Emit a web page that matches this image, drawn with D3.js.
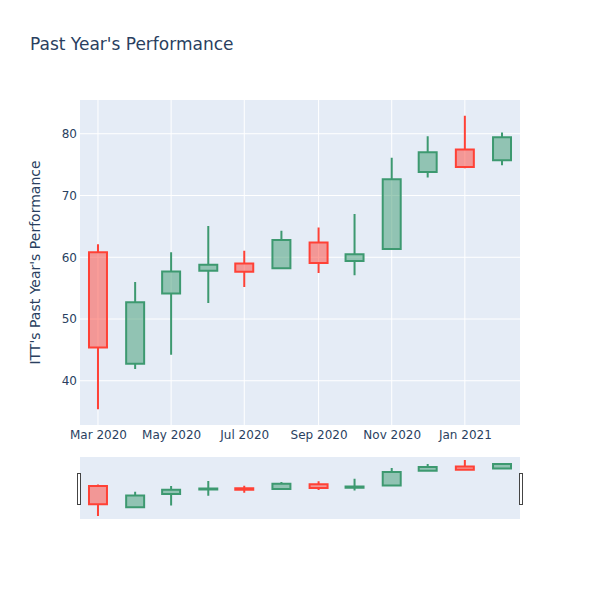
<!DOCTYPE html>
<html><head><meta charset="utf-8">
<script src="https://cdn.jsdelivr.net/npm/d3@7"></script>
<style>body{margin:0;background:#fff}svg{display:block}text{font-family:"DejaVu Sans",verdana,arial,sans-serif}</style>
</head><body><svg id="c" width="600" height="600"></svg>
<script>
const dates = ["2020-03-01","2020-04-01","2020-05-01","2020-06-01","2020-07-01","2020-08-01","2020-09-01","2020-10-01","2020-11-01","2020-12-01","2021-01-01","2021-02-01"];
const openV  = [60.8, 42.75, 54.15, 57.8, 59.0, 58.2, 62.4, 59.4, 61.35, 73.8, 77.45, 75.7];
const highV  = [62.1, 56.0, 60.8, 65.05, 61.05, 64.3, 64.8, 67.0, 76.1, 79.6, 82.9, 80.2];
const lowV   = [35.4, 41.9, 44.2, 52.6, 55.2, 58.2, 57.45, 57.1, 61.35, 72.9, 74.4, 74.9];
const closeV = [45.4, 52.7, 57.7, 58.8, 57.65, 62.8, 59.05, 60.5, 72.65, 77.0, 74.6, 79.45];
const yTicks = [40, 50, 60, 70, 80];
const titleText = "Past Year's Performance";
const yTitle = "ITT's Past Year's Performance";
const FONT = '"DejaVu Sans",verdana,arial,sans-serif';

const parse = d3.timeParse("%Y-%m-%d");
const data = dates.map((d,i)=>({t:parse(d),o:openV[i],h:highV[i],l:lowV[i],c:closeV[i]}));
let minDx = Infinity;
for (let i=1;i<data.length;i++) minDx = Math.min(minDx, data[i].t - data[i-1].t);
const half = minDx/2;

const L=80,R=520,T=100,B=425, ST=457, SB=519;
const svg = d3.select("#c");
const x = d3.scaleTime().domain([new Date(+data[0].t - half), new Date(+data[data.length-1].t + half)]).range([L,R]);
const lo = d3.min(lowV), hi = d3.max(highV), pad=(hi-lo)*0.054;
const y = d3.scaleLinear().domain([lo-pad, hi+pad]).range([B,T]);
const ys = d3.scaleLinear().domain([lo-pad, hi+pad]).range([SB,ST]);

svg.append("rect").attr("x",L).attr("y",T).attr("width",R-L).attr("height",B-T).attr("fill","#E5ECF6");
svg.append("rect").attr("x",L).attr("y",ST).attr("width",R-L).attr("height",SB-ST).attr("fill","#E5ECF6");

const xTicks = d3.timeMonth.every(2).range(new Date(2020,2,1), new Date(2021,1,15));
svg.append("g").selectAll("line").data(yTicks).join("line")
  .attr("x1",L).attr("x2",R).attr("y1",d=>y(d)).attr("y2",d=>y(d)).attr("stroke","#fff").attr("stroke-width",1);
svg.append("g").selectAll("line").data(xTicks).join("line")
  .attr("x1",d=>x(d)).attr("x2",d=>x(d)).attr("y1",T).attr("y2",B).attr("stroke","#fff").attr("stroke-width",1);

const yAxis = d3.axisLeft(y).tickValues(yTicks).tickSize(0).tickPadding(3);
const gy = svg.append("g").attr("transform",`translate(${L},0)`).call(yAxis);
gy.select(".domain").remove();
gy.selectAll("text").attr("font-size",12).attr("fill","#2a3f5f").style("font-family",FONT);
const xAxis = d3.axisBottom(x).tickValues(xTicks).tickFormat(d3.timeFormat("%b %Y")).tickSize(0).tickPadding(5);
const gx = svg.append("g").attr("transform",`translate(0,${B})`).call(xAxis);
gx.select(".domain").remove();
gx.selectAll("text").attr("font-size",12).attr("fill","#2a3f5f").style("font-family",FONT);

function drawCandles(g, ys, lw){
  const w = x(new Date(+data[0].t + half/2)) - x(data[0].t);
  data.forEach(d=>{
    const up = d.c >= d.o;
    const col = up ? "#3D9970" : "#FF4136";
    const fill = up ? "rgba(61,153,112,0.5)" : "rgba(255,65,54,0.5)";
    const cx = x(d.t);
    const top = ys(Math.max(d.o,d.c)), bot = ys(Math.min(d.o,d.c));
    const p = `M${cx-w},${bot}H${cx+w}V${top}H${cx-w}Z M${cx},${bot}V${ys(d.l)} M${cx},${top}V${ys(d.h)}`;
    g.append("path").attr("d",`M${cx-w},${bot}H${cx+w}V${top}H${cx-w}Z`).attr("fill",fill).attr("stroke","none");
    g.append("path").attr("d",p).attr("fill","none").attr("stroke",col).attr("stroke-width",lw);
  });
}
drawCandles(svg.append("g"), y, 2);
drawCandles(svg.append("g"), ys, 2);

[L-1.5, R+0.5].forEach(hx=>{
  svg.append("rect").attr("x",hx-1).attr("y",473.5).attr("width",3).attr("height",31)
    .attr("fill","#fff").attr("stroke","#444").attr("stroke-width",1);
});

svg.append("text").attr("x",30).attr("y",50).attr("font-size",17).attr("fill","#2a3f5f").text(titleText);
svg.append("text").attr("transform",`translate(40,${(T+B)/2}) rotate(-90)`).attr("text-anchor","middle")
  .attr("font-size",14).attr("fill","#2a3f5f").text(yTitle);
</script></body></html>
